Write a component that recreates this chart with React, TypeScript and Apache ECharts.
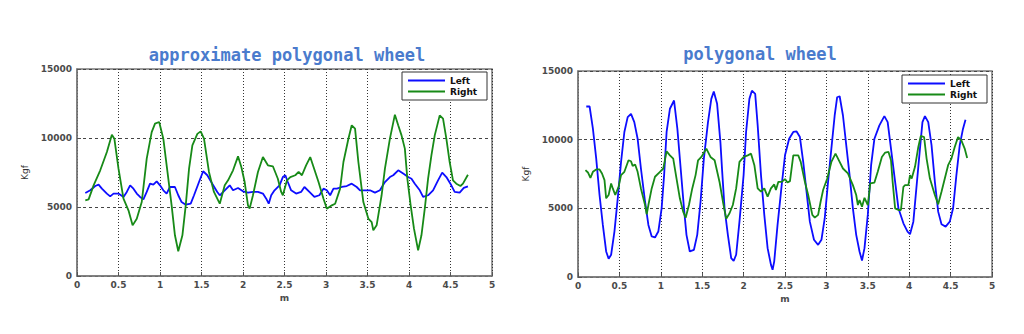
import React, { useEffect, useRef } from "react";
import * as echarts from "echarts";

const titles = ["approximate polygonal wheel", "polygonal wheel"];
const seriesNames = ["Left", "Right"];
const xAxisName = "m";
const yAxisName = "Kgf";

// approximate polygonal wheel — [m, Kgf]
const approxLeft: [number, number][] = [
  [0.10,6015],[0.16,6210],[0.22,6520],[0.26,6620],[0.30,6330],[0.36,5970],[0.40,5770],[0.44,5970],[0.50,5970],[0.56,5730],
  [0.60,6090],[0.64,6570],[0.68,6330],[0.72,5970],[0.76,5730],[0.80,5560],[0.84,6090],[0.88,6690],[0.92,6620],[0.96,6860],
  [1.00,6570],[1.04,6210],[1.08,5970],[1.12,6450],[1.18,6450],[1.22,5850],[1.26,5360],[1.31,5170],[1.37,5240],[1.41,5850],
  [1.47,6810],[1.52,7590],[1.57,7300],[1.63,6690],[1.69,6090],[1.72,5850],[1.78,6210],[1.84,6570],[1.88,6210],[1.94,6380],
  [2.00,6140],[2.06,6040],[2.12,6090],[2.18,6090],[2.24,5970],[2.28,5600],[2.31,5240],[2.34,5850],[2.38,6210],[2.44,6570],
  [2.48,7170],[2.51,7300],[2.54,6810],[2.58,6210],[2.64,5970],[2.70,6090],[2.74,6450],[2.80,6090],[2.86,5730],[2.92,5850],
  [2.97,6330],[3.01,6210],[3.05,5850],[3.09,6330],[3.13,6330],[3.19,6450],[3.25,6520],[3.31,6690],[3.37,6450],[3.41,6210],
  [3.47,6210],[3.53,6210],[3.59,6040],[3.65,6210],[3.71,6810],[3.77,7170],[3.81,7300],[3.87,7660],[3.93,7420],[3.99,7170],
  [4.03,7050],[4.07,6690],[4.13,6210],[4.17,5730],[4.23,5850],[4.29,6210],[4.35,6930],[4.40,7490],[4.45,7170],[4.51,6570],
  [4.55,6090],[4.61,6040],[4.66,6380],[4.71,6500]
];
const approxRight: [number, number][] = [
  [0.10,5480],[0.14,5550],[0.20,6570],[0.28,7660],[0.36,8990],[0.42,10240],[0.45,9950],[0.50,7780],[0.56,5600],[0.62,4760],
  [0.67,3670],[0.72,4150],[0.78,5360],[0.84,8500],[0.90,10430],[0.94,11040],[0.99,11160],[1.04,9950],[1.09,7540],[1.14,5120],
  [1.18,2950],[1.22,1790],[1.27,2950],[1.31,5120],[1.35,7780],[1.39,9470],[1.45,10300],[1.49,10480],[1.53,9950],[1.59,7540],
  [1.65,6090],[1.72,5240],[1.78,6570],[1.82,6930],[1.88,7660],[1.94,8670],[1.98,7900],[2.02,6810],[2.06,5120],[2.08,4880],
  [2.12,5850],[2.18,7540],[2.24,8620],[2.30,8020],[2.36,7950],[2.42,7050],[2.46,6090],[2.48,5850],[2.53,6930],[2.57,7170],
  [2.63,7300],[2.67,7540],[2.71,7300],[2.76,8020],[2.81,8620],[2.85,7900],[2.91,6810],[2.97,5600],[3.01,4880],[3.07,5120],
  [3.11,5240],[3.17,6330],[3.21,8260],[3.27,9950],[3.31,10920],[3.35,10680],[3.39,8260],[3.45,5360],[3.51,4160],[3.55,3910],
  [3.57,3310],[3.61,3670],[3.63,4400],[3.67,5850],[3.71,7780],[3.77,9950],[3.83,11690],[3.87,10920],[3.91,10190],[3.95,9230],
  [3.98,7050],[4.02,5120],[4.06,3430],[4.11,1860],[4.15,2950],[4.19,4880],[4.23,7050],[4.27,8740],[4.31,10190],[4.37,11640],
  [4.41,11400],[4.45,9950],[4.49,8260],[4.53,6930],[4.57,6690],[4.62,6520],[4.65,6690],[4.71,7340]
];

// polygonal wheel — [m, Kgf]
const polyLeft: [number, number][] = [
  [0.10,12415],[0.14,12415],[0.18,10800],[0.22,8620],[0.26,5970],[0.30,3790],[0.34,1860],[0.37,1330],[0.40,1620],[0.44,3310],
  [0.48,5730],[0.52,8380],[0.56,10560],[0.60,11640],[0.64,11880],[0.68,11280],[0.72,10070],[0.76,7900],[0.81,5480],[0.85,3790],
  [0.89,2950],[0.93,2880],[0.97,3310],[1.01,5000],[1.04,7420],[1.07,10560],[1.11,12250],[1.16,12850],[1.20,10800],[1.24,7900],
  [1.28,5000],[1.31,3070],[1.35,1860],[1.40,1980],[1.44,3070],[1.48,5480],[1.52,8620],[1.57,11280],[1.61,12970],[1.64,13500],
  [1.68,12610],[1.72,9800],[1.74,7800],[1.77,5000],[1.81,3070],[1.85,1380],[1.88,1180],[1.91,1620],[1.95,4030],[2.00,7420],
  [2.03,10560],[2.07,12970],[2.10,13570],[2.14,13330],[2.17,11040],[2.21,7420],[2.25,4520],[2.29,2100],[2.33,900],[2.35,530],
  [2.37,1140],[2.41,3790],[2.46,6690],[2.50,8860],[2.55,10070],[2.60,10560],[2.64,10600],[2.68,10190],[2.72,8380],[2.76,6210],
  [2.80,4030],[2.85,2710],[2.90,2340],[2.94,2710],[2.98,4280],[3.02,6930],[3.06,9350],[3.10,11760],[3.13,13090],[3.16,13160],
  [3.20,11760],[3.24,9590],[3.28,7420],[3.32,5000],[3.36,3070],[3.40,1860],[3.43,1200],[3.46,2100],[3.50,4520],[3.54,8140],
  [3.58,10070],[3.64,11040],[3.70,11710],[3.74,11280],[3.78,9350],[3.83,6930],[3.87,5000],[3.93,3910],[3.98,3310],[4.01,3120],
  [4.05,4030],[4.09,6690],[4.13,9350],[4.16,11280],[4.19,11710],[4.23,11280],[4.27,9590],[4.31,6930],[4.35,4760],[4.39,3840],
  [4.44,3670],[4.49,4030],[4.53,5000],[4.57,7420],[4.61,9590],[4.65,10800],[4.68,11450]
];
const polyRight: [number, number][] = [
  [0.09,7780],[0.12,7610],[0.15,7220],[0.18,7660],[0.22,7830],[0.26,7830],[0.29,7540],[0.32,7050],[0.34,5730],[0.37,5970],
  [0.40,6810],[0.42,6450],[0.45,5970],[0.49,6570],[0.52,7420],[0.56,7660],[0.61,8500],[0.64,8430],[0.66,8090],[0.69,8190],
  [0.72,7660],[0.76,6450],[0.81,5240],[0.83,4570],[0.85,5240],[0.89,6450],[0.93,7300],[0.99,7660],[1.03,7900],[1.07,9150],
  [1.11,8860],[1.15,8620],[1.19,7170],[1.23,5730],[1.27,4760],[1.30,4320],[1.34,5240],[1.38,6450],[1.42,7420],[1.45,8500],
  [1.49,8740],[1.55,9350],[1.60,8740],[1.65,8500],[1.71,6900],[1.75,5500],[1.79,4230],[1.83,4640],[1.87,5240],[1.91,6450],
  [1.95,8380],[2.00,8740],[2.05,8860],[2.09,8980],[2.13,8140],[2.17,6450],[2.21,6210],[2.25,6450],[2.29,5850],[2.33,6450],
  [2.37,6740],[2.39,6330],[2.42,6930],[2.46,6930],[2.50,7130],[2.53,6880],[2.56,6980],[2.60,8860],[2.66,8860],[2.69,8380],
  [2.74,6930],[2.78,5970],[2.83,4520],[2.86,4320],[2.90,4520],[2.93,5480],[2.96,6330],[3.01,7170],[3.06,8380],[3.11,8980],
  [3.16,8380],[3.20,7900],[3.26,7540],[3.32,6690],[3.36,5970],[3.38,5240],[3.40,5600],[3.43,5120],[3.46,5770],[3.50,5240],
  [3.53,6810],[3.58,6880],[3.62,7660],[3.67,8740],[3.71,9060],[3.75,9110],[3.78,8500],[3.80,6930],[3.83,5000],[3.87,4880],
  [3.90,4880],[3.93,6570],[3.95,6690],[3.99,6690],[4.01,7420],[4.03,7170],[4.07,8020],[4.11,9470],[4.14,10270],[4.18,10190],
  [4.21,8620],[4.25,7170],[4.31,5970],[4.35,5290],[4.39,6210],[4.43,7170],[4.47,8140],[4.51,8620],[4.55,9470],[4.59,10190],
  [4.63,9950],[4.67,9350],[4.70,8670]
];

const xRange = { min: 0, max: 5, interval: 0.5 };
const yRange = { min: 0, max: 15000, interval: 5000 };

const BLUE = "#0d0dff";
const GREEN = "#178a17";
const TITLE_COLOR = "#4a7bcd";
const LABEL_COLOR = "#4a4a4a";

export default function App() {
  const ref = useRef<HTMLDivElement>(null);
  useEffect(() => {
    document.body.style.margin = "0";
    const chart = echarts.init(ref.current!, null, { renderer: "svg" });

    const grids = [
      { left: 77, right: 532, top: 69, bottom: 58 },
      { left: 578, right: 32, top: 71, bottom: 57 },
    ];
    const tickFont = { fontFamily: "DejaVu Sans", fontWeight: "bold" as const, fontSize: 9, color: LABEL_COLOR };

    const xAxes = grids.map((_, i) => ({
      type: "value" as const,
      gridIndex: i,
      ...xRange,
      name: xAxisName,
      nameLocation: "middle" as const,
      nameGap: 12,
      nameTextStyle: { ...tickFont, fontSize: 9 },
      axisLine: { show: true, onZero: false, lineStyle: { color: "#7a7a7a", width: 1.5 } },
      axisTick: { show: true, inside: true, length: 4, lineStyle: { color: "#555" } },
      axisLabel: { ...tickFont, margin: 4, formatter: (v: number) => String(v) },
      splitLine: { show: true, lineStyle: { color: "#333", type: [1, 2], width: 1 } },
    }));
    const yAxes = grids.map((_, i) => ({
      type: "value" as const,
      gridIndex: i,
      ...yRange,
      name: yAxisName,
      nameLocation: "middle" as const,
      nameGap: 48,
      nameTextStyle: { fontFamily: "DejaVu Sans", fontSize: 9, color: "#333" },
      axisLine: { show: true, lineStyle: { color: "#7a7a7a", width: 1.5 } },
      axisTick: { show: true, inside: true, length: 4, lineStyle: { color: "#555" } },
      axisLabel: { ...tickFont, margin: 5, formatter: (v: number) => String(v) },
      splitLine: { show: true, lineStyle: { color: "#444", type: [3, 3], width: 1 } },
    }));

    const mk = (name: string, data: [number, number][], idx: number, color: string) => ({
      type: "line" as const,
      name,
      xAxisIndex: idx,
      yAxisIndex: idx,
      data,
      showSymbol: false,
      symbol: "none",
      lineStyle: { color, width: 1.8 },
      itemStyle: { color },
    });

    const legendBase = {
      orient: "vertical" as const,
      icon: "rect",
      itemWidth: 37,
      itemHeight: 2,
      itemGap: 0,
      padding: [3, 3, 3, 6],
      borderColor: "#333",
      borderWidth: 1,
      backgroundColor: "#fff",
      data: seriesNames,
      textStyle: {
        fontFamily: "DejaVu Sans",
        fontWeight: "bold" as const,
        fontSize: 9,
        lineHeight: 11,
        color: "#111",
        width: 34,
        align: "right" as const,
      },
      selectedMode: false,
    };

    chart.setOption({
      animation: false,
      backgroundColor: "#fff",
      title: [
        {
          text: titles[0],
          left: 282,
          top: 41,
          textAlign: "center",
          textStyle: { fontFamily: "DejaVu Sans Mono", fontWeight: "bold", fontSize: 17, color: TITLE_COLOR },
        },
        {
          text: titles[1],
          left: 755,
          top: 40,
          textAlign: "center",
          textStyle: { fontFamily: "DejaVu Sans Mono", fontWeight: "bold", fontSize: 17, color: TITLE_COLOR },
        },
      ],
      legend: [
        { ...legendBase, left: 402, top: 72 },
        { ...legendBase, left: 902, top: 75 },
      ],
      grid: grids.map((g) => ({ ...g, show: true, borderColor: "#7a7a7a", borderWidth: 1.5, backgroundColor: "#fff" })),
      xAxis: xAxes,
      yAxis: yAxes,
      series: [
        mk(seriesNames[0], approxLeft, 0, BLUE),
        mk(seriesNames[1], approxRight, 0, GREEN),
        mk(seriesNames[0], polyLeft, 1, BLUE),
        mk(seriesNames[1], polyRight, 1, GREEN),
      ],
    });
    return () => chart.dispose();
  }, []);
  return <div ref={ref} style={{ width: 1024, height: 334 }} />;
}
